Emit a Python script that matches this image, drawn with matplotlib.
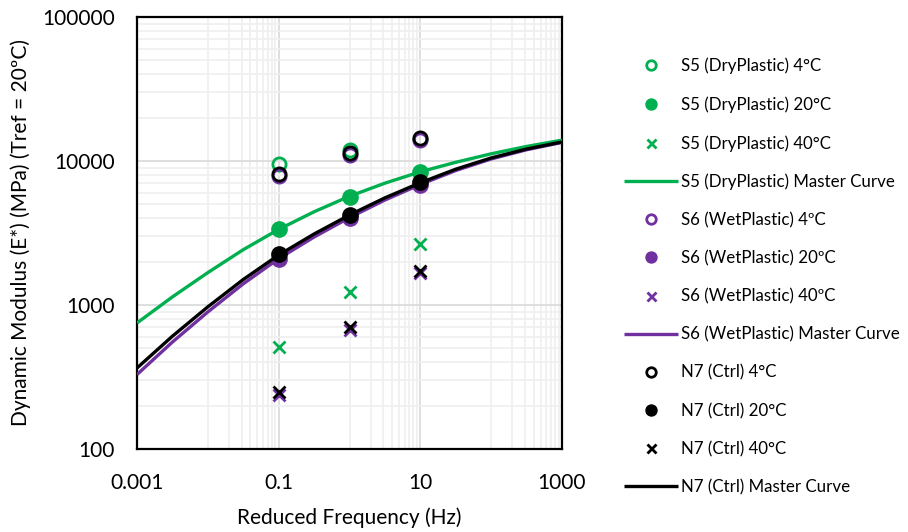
import matplotlib
matplotlib.use("Agg")
import matplotlib.pyplot as plt
from matplotlib.ticker import FixedLocator, NullFormatter, FixedFormatter

plt.rcParams['font.family'] = ['Lato', 'DejaVu Sans']

# ---- data ----
freq_pts = [0.1, 1, 10]
s5_4 = [9480, 11920, 14300]
s5_20 = [3370, 5620, 8400]
s5_40 = [513, 1237, 2640]
s6_4 = [7900, 11000, 14000]
s6_20 = [2080, 4020, 6800]
s6_40 = [238, 670, 1680]
n7_4 = [8090, 11300, 14390]
n7_20 = [2250, 4220, 7100]
n7_40 = [250, 700, 1730]

freq_mc = [0.001, 0.00316, 0.01, 0.0316, 0.1, 0.316, 1, 3.16, 10, 31.6, 100, 316, 1000]
s5_mc = [750, 1138, 1679, 2421, 3350, 4440, 5689, 7015, 8414, 9795, 11220, 12620, 13960]
s6_mc = [329, 553, 895, 1403, 2099, 2965, 4046, 5358, 6871, 8590, 10330, 11970, 13460]
n7_mc = [365, 607, 971, 1503, 2223, 3112, 4217, 5546, 7063, 8770, 10500, 12110, 13550]

labels = ["S5 (DryPlastic) 4°C", "S5 (DryPlastic) 20°C", "S5 (DryPlastic) 40°C",
          "S5 (DryPlastic) Master Curve",
          "S6 (WetPlastic) 4ºC", "S6 (WetPlastic) 20ºC", "S6 (WetPlastic) 40ºC",
          "S6 (WetPlastic) Master Curve",
          "N7 (Ctrl) 4°C", "N7 (Ctrl) 20°C", "N7 (Ctrl) 40°C", "N7 (Ctrl) Master Curve"]

x_ticks = [0.001, 0.1, 10, 1000]
x_ticklabels = ["0.001", "0.1", "10", "1000"]
y_ticks = [100, 1000, 10000, 100000]
y_ticklabels = ["100", "1000", "10000", "100000"]

GREEN = "#00B050"
PURPLE = "#7030A0"
BLACK = "#000000"

fig = plt.figure(figsize=(9.08, 5.32), dpi=100)
ax = fig.add_axes([137/908, 1-449/532, (562-137)/908, (449-17)/532])
ax.set_xscale('log')
ax.set_yscale('log')
ax.set_xlim(0.001, 1000)
ax.set_ylim(100, 100000)

handles = []
groups = [
    (GREEN, s5_4, s5_20, s5_40, s5_mc),
    (PURPLE, s6_4, s6_20, s6_40, s6_mc),
    (BLACK, n7_4, n7_20, n7_40, n7_mc),
]
z = 3
for col, v4, v20, v40, mc in groups:
    h1, = ax.plot(freq_pts, v4, linestyle='none', marker='o', markersize=9.5,
                  markerfacecolor='none', markeredgecolor=col, markeredgewidth=2.0, zorder=z + 1)
    h2, = ax.plot(freq_pts, v20, linestyle='none', marker='o', markersize=11,
                  markerfacecolor=col, markeredgecolor=col, zorder=z + 1)
    h3, = ax.plot(freq_pts, v40, linestyle='none', marker='x', markersize=9,
                  markeredgecolor=col, markeredgewidth=2.0, zorder=z + 1)
    h4, = ax.plot(freq_mc, mc, color=col, linewidth=2.4, zorder=z, solid_capstyle='butt')
    handles += [h1, h2, h3, h4]
    z += 2

# grid
ax.xaxis.set_major_locator(FixedLocator(x_ticks))
ax.xaxis.set_major_formatter(FixedFormatter(x_ticklabels))
xminor = [k * 0.01 for k in range(1, 10)] + [k * 1.0 for k in range(1, 10)] + [k * 100.0 for k in range(1, 10)]
ax.xaxis.set_minor_locator(FixedLocator(xminor))
ax.xaxis.set_minor_formatter(NullFormatter())
ax.yaxis.set_major_locator(FixedLocator(y_ticks))
ax.yaxis.set_major_formatter(FixedFormatter(y_ticklabels))
yminor = [k * d for d in (100, 1000, 10000) for k in range(2, 10)]
ax.yaxis.set_minor_locator(FixedLocator(yminor))
ax.yaxis.set_minor_formatter(NullFormatter())
ax.grid(which='minor', color='#efefef', linewidth=1.2, zorder=0)
ax.grid(which='major', color='#d9d9d9', linewidth=1.2, zorder=0)
ax.set_axisbelow(True)
ax.tick_params(which='both', length=0)
ax.tick_params(axis='x', which='major', labelsize=15, pad=17)
ax.tick_params(axis='y', which='major', labelsize=15, pad=16)
for s in ax.spines.values():
    s.set_linewidth(1.6)
    s.set_color('black')

ax.set_xlabel("Reduced Frequency (Hz)", fontsize=15, labelpad=11)
ax.set_ylabel("Dynamic Modulus (E*) (MPa) (Tref = 20ºC)", fontsize=15, labelpad=8)

fig.legend(handles, labels, loc='upper left', bbox_to_anchor=(617/908, 1-51/532),
           frameon=False, fontsize=12.2, handlelength=3.2, handletextpad=0.2,
           labelspacing=1.3, markerscale=0.72, borderaxespad=0)

fig.savefig("out.png", dpi=100)
